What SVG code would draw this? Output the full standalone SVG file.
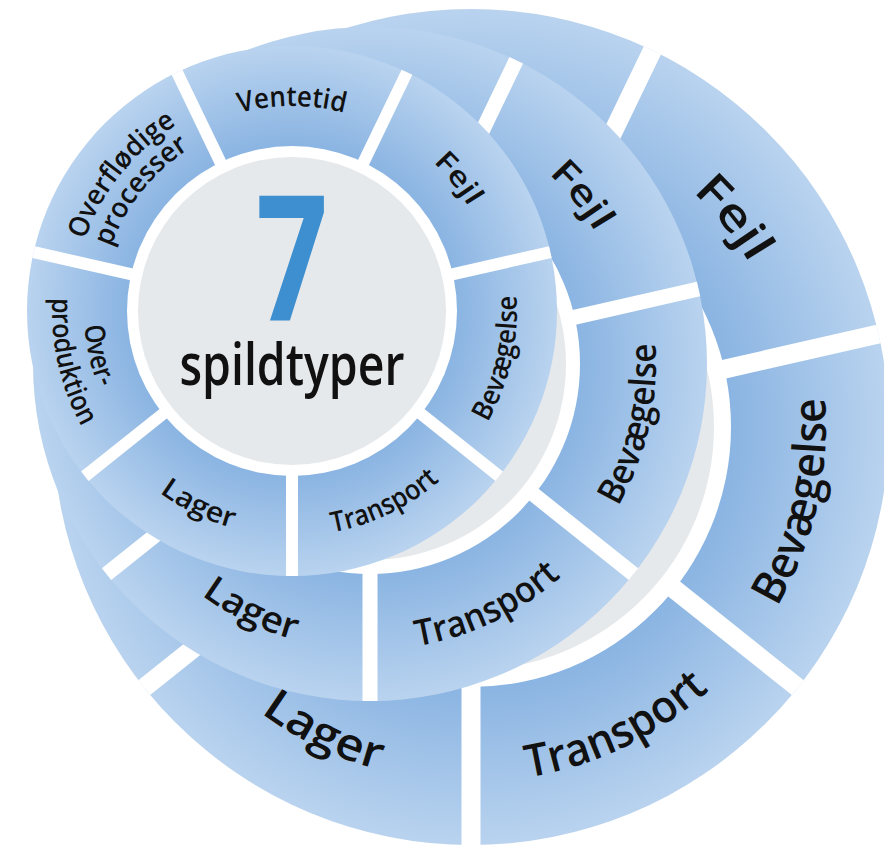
<svg xmlns="http://www.w3.org/2000/svg" width="884" height="849" viewBox="0 0 884 849">
<defs>
<radialGradient id="seg" cx="50%" cy="50%" r="50%">
<stop offset="0.62" stop-color="#8ab4e2"/>
<stop offset="1" stop-color="#b9d3ef"/>
</radialGradient>
<path id="cw205" d="M-192.64,-70.11 A205,205 0 0 1 192.64,-70.11"/>
<path id="cw219" d="M-205.79,-74.90 A219,219 0 0 1 205.79,-74.90"/>
<path id="cw192" d="M-180.42,-65.67 A192,192 0 0 1 180.42,-65.67"/>
<path id="ccw225" d="M-211.43,76.95 A225,225 0 0 0 211.43,76.95"/>
<path id="ccw208" d="M-195.46,71.14 A208,208 0 0 0 195.46,71.14"/>
<path id="ccw240" d="M-225.53,82.08 A240,240 0 0 0 225.53,82.08"/>
<path id="cw261" d="M-245.26,-89.26 A261,261 0 0 1 245.26,-89.26"/>
<path id="ccw286" d="M-268.75,97.81 A286,286 0 0 0 268.75,97.81"/>
<path id="cw323" d="M-303.52,-110.47 A323,323 0 0 1 303.52,-110.47"/>
<path id="ccw355" d="M-333.59,121.41 A355,355 0 0 0 333.59,121.41"/>
</defs>
<style>
.ring{fill:url(#seg)}
.hole{fill:#ffffff}
.core{fill:#e6e9ec}
.div{stroke:#ffffff;fill:none;stroke-linecap:butt}
.lbl{font-family:"Open Sans","Noto Sans","DejaVu Sans",sans-serif;font-weight:600;fill:#111111}
.f{font-size:28px}
.m{font-size:36px}
.b{font-size:45px}
</style>

<g id="wheel-back">
<circle class="ring" cx="471" cy="427" r="418"/>
<circle class="hole" cx="471" cy="427" r="260"/>
<circle class="core" cx="471" cy="427" r="243"/>
<g class="div" stroke-width="19">
<line x1="471" y1="682" x2="471" y2="845"/>
<line x1="271.64" y1="585.99" x2="144.21" y2="687.62"/>
<line x1="222.40" y1="370.26" x2="63.49" y2="333.99"/>
<line x1="360.36" y1="197.24" x2="289.63" y2="50.38"/>
<line x1="581.64" y1="197.24" x2="652.37" y2="50.38"/>
<line x1="719.60" y1="370.26" x2="878.51" y2="333.99"/>
<line x1="670.36" y1="585.99" x2="797.79" y2="687.62"/>
</g>
<g id="back-fejl"><text class="lbl b" transform="translate(471,427) rotate(51.43)"><textPath href="#cw323" startOffset="50%" text-anchor="middle" textLength="92" lengthAdjust="spacingAndGlyphs">Fejl</textPath></text></g>
<g id="back-bevaegelse"><text class="lbl b" transform="translate(471,427) rotate(-77.14)"><textPath href="#ccw355" startOffset="50%" text-anchor="middle" textLength="218" lengthAdjust="spacingAndGlyphs">Bevægelse</textPath></text></g>
<g id="back-transport"><text class="lbl b" transform="translate(471,427) rotate(-25.71)"><textPath href="#ccw355" startOffset="50%" text-anchor="middle" textLength="204" lengthAdjust="spacingAndGlyphs">Transport</textPath></text></g>
<g id="back-lager"><text class="lbl b" transform="translate(471,427) rotate(25.71)"><textPath href="#ccw355" startOffset="50%" text-anchor="middle" textLength="132" lengthAdjust="spacingAndGlyphs">Lager</textPath></text></g>
</g>

<g id="wheel-middle">
<circle class="ring" cx="370" cy="364" r="337"/>
<circle class="hole" cx="370" cy="364" r="210"/>
<circle class="core" cx="370" cy="364" r="196"/>
<g class="div" stroke-width="15">
<line x1="370" y1="570" x2="370" y2="701"/>
<line x1="208.95" y1="492.44" x2="106.53" y2="574.12"/>
<line x1="169.17" y1="318.16" x2="41.46" y2="289.02"/>
<line x1="280.62" y1="178.39" x2="223.78" y2="60.36"/>
<line x1="459.38" y1="178.39" x2="516.22" y2="60.36"/>
<line x1="570.83" y1="318.16" x2="698.54" y2="289.02"/>
<line x1="531.05" y1="492.44" x2="633.47" y2="574.12"/>
</g>
<g id="middle-fejl"><text class="lbl m" transform="translate(370,364) rotate(51.43)"><textPath href="#cw261" startOffset="50%" text-anchor="middle" textLength="75" lengthAdjust="spacingAndGlyphs">Fejl</textPath></text></g>
<g id="middle-bevaegelse"><text class="lbl m" transform="translate(370,364) rotate(-77.14)"><textPath href="#ccw286" startOffset="50%" text-anchor="middle" textLength="170" lengthAdjust="spacingAndGlyphs">Bevægelse</textPath></text></g>
<g id="middle-transport"><text class="lbl m" transform="translate(370,364) rotate(-25.71)"><textPath href="#ccw286" startOffset="50%" text-anchor="middle" textLength="162" lengthAdjust="spacingAndGlyphs">Transport</textPath></text></g>
<g id="middle-lager"><text class="lbl m" transform="translate(370,364) rotate(25.71)"><textPath href="#ccw286" startOffset="50%" text-anchor="middle" textLength="104" lengthAdjust="spacingAndGlyphs">Lager</textPath></text></g>
</g>

<g id="wheel-front">
<circle class="ring" cx="292" cy="311" r="265"/>
<circle class="hole" cx="292" cy="311" r="165"/>
<circle class="core" cx="292" cy="311" r="154"/>
<g class="div" stroke-width="12">
<line x1="292" y1="472" x2="292" y2="576"/>
<line x1="166.13" y1="411.38" x2="84.82" y2="476.23"/>
<line x1="135.04" y1="275.18" x2="33.65" y2="252.04"/>
<line x1="222.14" y1="165.94" x2="177.02" y2="72.23"/>
<line x1="361.86" y1="165.94" x2="406.98" y2="72.23"/>
<line x1="448.96" y1="275.18" x2="550.35" y2="252.04"/>
<line x1="417.87" y1="411.38" x2="499.18" y2="476.23"/>
</g>
<g id="front-ventetid"><text class="lbl f" transform="translate(292,311)"><textPath href="#cw205" startOffset="50%" text-anchor="middle" textLength="106" lengthAdjust="spacingAndGlyphs">Ventetid</textPath></text></g>
<g id="front-fejl"><text class="lbl f" transform="translate(292,311) rotate(51.43)"><textPath href="#cw205" startOffset="50%" text-anchor="middle" textLength="57" lengthAdjust="spacingAndGlyphs">Fejl</textPath></text></g>
<g id="front-bevaegelse"><text class="lbl f" transform="translate(292,311) rotate(-77.14)"><textPath href="#ccw225" startOffset="50%" text-anchor="middle" textLength="132" lengthAdjust="spacingAndGlyphs">Bevægelse</textPath></text></g>
<g id="front-transport"><text class="lbl f" transform="translate(292,311) rotate(-25.71)"><textPath href="#ccw225" startOffset="50%" text-anchor="middle" textLength="120" lengthAdjust="spacingAndGlyphs">Transport</textPath></text></g>
<g id="front-lager"><text class="lbl f" transform="translate(292,311) rotate(25.71)"><textPath href="#ccw225" startOffset="50%" text-anchor="middle" textLength="82" lengthAdjust="spacingAndGlyphs">Lager</textPath></text></g>
<g id="front-overproduktion">
<text class="lbl f" transform="translate(292,311) rotate(77.14)"><textPath href="#ccw208" startOffset="50%" text-anchor="middle" textLength="64" lengthAdjust="spacingAndGlyphs">Over-</textPath></text>
<text class="lbl f" transform="translate(292,311) rotate(77.14)"><textPath href="#ccw240" startOffset="50%" text-anchor="middle" textLength="134" lengthAdjust="spacingAndGlyphs">produktion</textPath></text>
</g>
<g id="front-overfloedige">
<text class="lbl f" transform="translate(292,311) rotate(-51.43)"><textPath href="#cw219" startOffset="50%" text-anchor="middle" textLength="150" lengthAdjust="spacingAndGlyphs">Overflødige</textPath></text>
<text class="lbl f" transform="translate(292,311) rotate(-51.43)"><textPath href="#cw192" startOffset="50%" text-anchor="middle" textLength="128" lengthAdjust="spacingAndGlyphs">processer</textPath></text>
</g>
<g id="center">
<text x="292" y="320" font-family="'Open Sans','Liberation Sans',sans-serif" font-weight="700" font-size="174" fill="#3d8fd0" text-anchor="middle" textLength="72" lengthAdjust="spacingAndGlyphs">7</text>
<text x="292" y="385" font-family="'Open Sans','Liberation Sans',sans-serif" font-weight="600" font-size="58" fill="#111111" text-anchor="middle" textLength="225" lengthAdjust="spacingAndGlyphs">spildtyper</text>
</g>
</g>
</svg>
